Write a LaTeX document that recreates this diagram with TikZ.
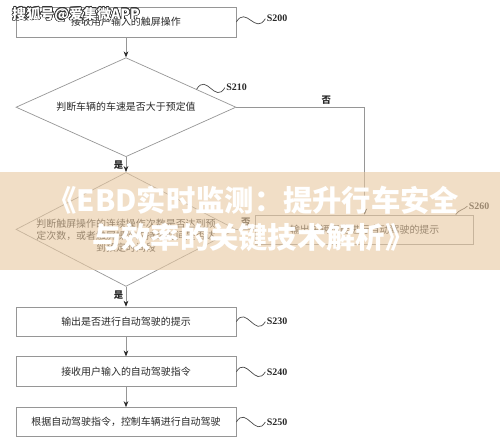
\documentclass[tikz,border=0pt]{standalone}
\usepackage{fontspec}
\setmainfont{Liberation Serif}
\newfontfamily\cjk{Noto Sans CJK SC}
\usepackage{contour}
\contourlength{0.5pt}
\usepackage{tikz}
\usetikzlibrary{arrows.meta,positioning,calc,shapes.geometric}
\definecolor{cLine}{RGB}{150,150,150}
\definecolor{cText}{RGB}{40,40,40}
\definecolor{cBand}{RGB}{232,200,160}
\tikzset{
  stepbox/.style={draw=cLine, line width=0.6pt, minimum width=6.6cm, minimum height=0.9cm,
                  inner sep=0pt, font=\cjk\fontsize{8.5}{10}\selectfont, text=cText},
  decision/.style={draw=cLine, line width=0.6pt, diamond, minimum width=6.6cm, inner sep=0pt},
  dtext/.style={font=\cjk\fontsize{8.5}{10.2}\selectfont, text=cText, align=center},
  ar/.style={-{Stealth[length=1.8mm,width=1.4mm,color=cText]}, draw=cLine, line width=0.6pt},
  squig/.style={draw=cText!85, line width=0.6pt},
  tagtxt/.style={font=\bfseries\fontsize{8.5}{10}\selectfont, text=cText, inner sep=1pt, anchor=west},
  yn/.style={font=\cjk\bfseries\fontsize{8}{9}\selectfont, text=cText, inner sep=2pt},
  band/.style={fill=cBand, fill opacity=0.6, minimum width=15cm, minimum height=2.94cm, inner sep=0pt},
}

\begin{document}
\begin{tikzpicture}
\useasboundingbox (0,0) rectangle (15,-13.29);

\node[stepbox] (s200) at (3.78,-0.66) {接收用户输入的触屏操作};
\node[decision, minimum height=2.97cm, below=6mm of s200] (s210) {};
\node[dtext] (d1t) at (s210) {判断车辆的车速是否大于预定值};
\node[decision, minimum height=3.42cm, below=4.5mm of s210] (s220) {};
\node[dtext, yshift=-2mm] (d2t) at (s220)
  {判断触屏操作的连续操作次数是否达到预\\定次数，或者触屏操作的持续时间是否达\\到预定时间段};
\node[stepbox, minimum height=0.87cm, below=6mm of s220] (s230) {输出是否进行自动驾驶的提示};
\node[stepbox, below=6mm of s230] (s240) {接收用户输入的自动驾驶指令};
\node[stepbox, minimum height=0.87cm, below=6mm of s240] (s250) {根据自动驾驶指令，控制车辆进行自动驾驶};
\node[stepbox, minimum width=6.54cm, minimum height=0.87cm, right=5.7mm of s220] (s260)
  {输出车辆不能进行自动驾驶的提示};

\draw[ar] (s200) -- (s210);
\draw[ar] (s210) -- node[yn, left, pos=0.55] {是} (s220);
\draw[ar] (s220) -- node[yn, left, pos=0.4] {是} (s230);
\draw[ar] (s230) -- (s240);
\draw[ar] (s240) -- (s250);
\draw[ar] (s210.east) -| node[yn, above, pos=0.35] {否} (s260.north);
\draw[ar] (s220.east) -- node[yn, above] {否} (s260.west);

% step numbers
\coordinate (t200) at ($(s200.east)+(0.87,0.1)$);
\draw[squig] (s200.east) .. controls +(0.3,0.5) and +(-0.3,-0.5) .. (t200);
\node[tagtxt] (l200) at (t200) {S200};
\coordinate (f210) at ($(s210.north)!0.64!(s210.east)$);
\coordinate (t210) at ($(f210)+(0.85,0.05)$);
\draw[squig] (f210) .. controls +(0.3,0.5) and +(-0.3,-0.5) .. (t210);
\node[tagtxt] (l210) at (t210) {S210};
\coordinate (t230) at ($(s230.east)+(0.87,0)$);
\draw[squig] (s230.east) .. controls +(0.3,0.5) and +(-0.3,-0.5) .. (t230);
\node[tagtxt] (l230) at (t230) {S230};
\coordinate (t240) at ($(s240.east)+(0.87,0)$);
\draw[squig] (s240.east) .. controls +(0.3,0.5) and +(-0.3,-0.5) .. (t240);
\node[tagtxt] (l240) at (t240) {S240};
\coordinate (t250) at ($(s250.east)+(0.87,0)$);
\draw[squig] (s250.east) .. controls +(0.3,0.5) and +(-0.3,-0.5) .. (t250);
\node[tagtxt] (l250) at (t250) {S250};
\coordinate (f260) at ($(s260.north east)+(-0.55,0)$);
\coordinate (t260) at ($(s260.north east)+(-0.2,0.25)$);
\draw[squig] (f260) .. controls +(0.1,0.15) and +(-0.1,-0.1) .. (t260);
\node[tagtxt] (l260) at (t260) {S260};

% title band
\node[band] (band) at (7.5,-6.63) {};
\node[text=white, font=\cjk\bfseries\fontsize{25}{32}\selectfont, align=center] (title) at (7.6,-6.57)
  {《EBD实时监测：提升行车安全\\与效率的关键技术解析》};

% watermark
\node[font=\cjk\bfseries\fontsize{12}{14}\selectfont, inner sep=0pt] (wmark) at (2.28,-0.45)
  {\contour{black!80}{\textcolor{white}{搜狐号@爱集微APP}}};
\end{tikzpicture}
\end{document}
